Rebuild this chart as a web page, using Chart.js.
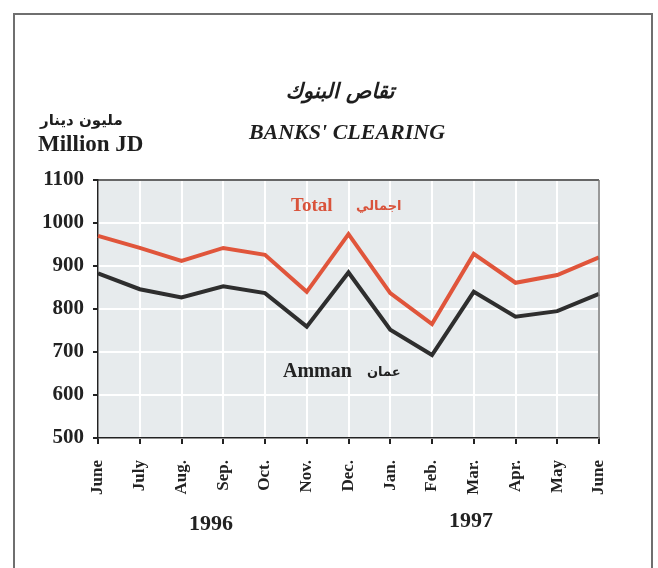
<!DOCTYPE html>
<html>
<head>
<meta charset="utf-8">
<script src="https://cdn.jsdelivr.net/npm/chart.js@4/dist/chart.umd.min.js"></script>
<style>
html,body{margin:0;padding:0;background:#fff;}
canvas{display:block;}
</style>
</head>
<body>
<canvas id="c" width="658" height="568"></canvas>
<script>
const months = ['June','July','Aug.','Sep.','Oct.','Nov.','Dec.','Jan.','Feb.','Mar.','Apr.','May','June'];
const totalValues = [970, 942, 912, 942, 926, 840, 974, 837, 765, 928, 861, 879, 920];
const ammanValues = [883, 846, 827, 853, 837, 759, 885, 752, 693, 840, 782, 795, 835];
const yTicks = [500, 600, 700, 800, 900, 1000, 1100];
const years = ['1996', '1997'];

const SERIF = "'Liberation Serif', 'Times New Roman', serif";
const ARABIC = "'DejaVu Sans', sans-serif";

const decor = {
  id: 'decor',
  beforeDraw(chart) {
    const {ctx, chartArea: a} = chart;
    ctx.save();
    ctx.fillStyle = '#fff';
    ctx.fillRect(0, 0, chart.width, chart.height);
    ctx.fillStyle = '#e7ebed';
    ctx.fillRect(a.left, a.top, a.right - a.left, a.bottom - a.top);
    ctx.restore();
  },
  afterDraw(chart) {
    const {ctx, chartArea: a} = chart;
    ctx.save();
    // outer frame
    ctx.strokeStyle = '#6f6f6f';
    ctx.lineWidth = 2;
    ctx.beginPath();
    ctx.moveTo(14, 572); ctx.lineTo(14, 14); ctx.lineTo(652, 14); ctx.lineTo(652, 572);
    ctx.stroke();
    // plot top & right border
    ctx.lineWidth = 1.5;
    ctx.strokeStyle = '#333';
    ctx.beginPath(); ctx.moveTo(a.left, a.top); ctx.lineTo(a.right, a.top); ctx.stroke();
    ctx.strokeStyle = '#777';
    ctx.beginPath(); ctx.moveTo(a.right, a.top); ctx.lineTo(a.right, a.bottom); ctx.stroke();

    ctx.textBaseline = 'middle';
    ctx.textAlign = 'center';
    ctx.fillStyle = '#1e1e1e';
    ctx.font = "bold italic 21px " + ARABIC;
    ctx.fillText('تقاص البنوك', 340, 93);
    ctx.font = "bold italic 22px " + SERIF;
    ctx.fillText("BANKS' CLEARING", 347, 133);

    ctx.textAlign = 'left';
    ctx.font = "bold 15px " + ARABIC;
    ctx.fillText('مليون دينار', 40, 121);
    ctx.font = "bold 23px " + SERIF;
    ctx.fillText('Million JD', 38, 145);

    // series labels
    ctx.fillStyle = '#d9533b';
    ctx.font = "bold 19px " + SERIF;
    ctx.fillText('Total', 291, 206);
    ctx.font = "bold 13px " + ARABIC;
    ctx.fillText('اجمالي', 356, 207);
    ctx.fillStyle = '#222';
    ctx.font = "bold 20px " + SERIF;
    ctx.fillText('Amman', 283, 372);
    ctx.font = "bold 13px " + ARABIC;
    ctx.fillText('عمان', 367, 373);

    // years
    ctx.textAlign = 'center';
    ctx.font = "bold 22px " + SERIF;
    ctx.fillText(years[0], 211, 524);
    ctx.fillText(years[1], 471, 521);
    ctx.restore();
  }
};

new Chart(document.getElementById('c'), {
  type: 'line',
  data: {
    labels: months,
    datasets: [
      { label: 'Total', data: totalValues, borderColor: '#e0553b', borderWidth: 4, pointRadius: 0, tension: 0, fill: false },
      { label: 'Amman', data: ammanValues, borderColor: '#2e2e2e', borderWidth: 4, pointRadius: 0, tension: 0, fill: false }
    ]
  },
  options: {
    responsive: false,
    animation: false,
    devicePixelRatio: 1,
    layout: { padding: { top: 180, right: 59, left: 0, bottom: 0 } },
    plugins: { legend: { display: false }, tooltip: { enabled: false }, title: { display: false } },
    scales: {
      x: {
        type: 'category',
        offset: false,
        afterFit(s) { s.height = 130; },
        grid: { color: '#ffffff', lineWidth: 2, tickColor: '#222', tickLength: 6, drawOnChartArea: true },
        border: { color: '#222', width: 1.5 },
        ticks: { color: '#222', font: { family: SERIF, size: 17, weight: 'bold' }, minRotation: 90, maxRotation: 90, padding: 16, autoSkip: false }
      },
      y: {
        min: 500, max: 1100,
        afterFit(s) { s.width = 98; },
        afterBuildTicks(s) { s.ticks = yTicks.map(v => ({ value: v })); },
        grid: { color: '#ffffff', lineWidth: 2, tickColor: '#222', tickLength: 5 },
        border: { color: '#222', width: 1.5 },
        ticks: { color: '#222', font: { family: SERIF, size: 21, weight: 'bold' }, padding: 9, callback: v => String(v) }
      }
    }
  },
  plugins: [decor]
});
</script>
</body>
</html>
